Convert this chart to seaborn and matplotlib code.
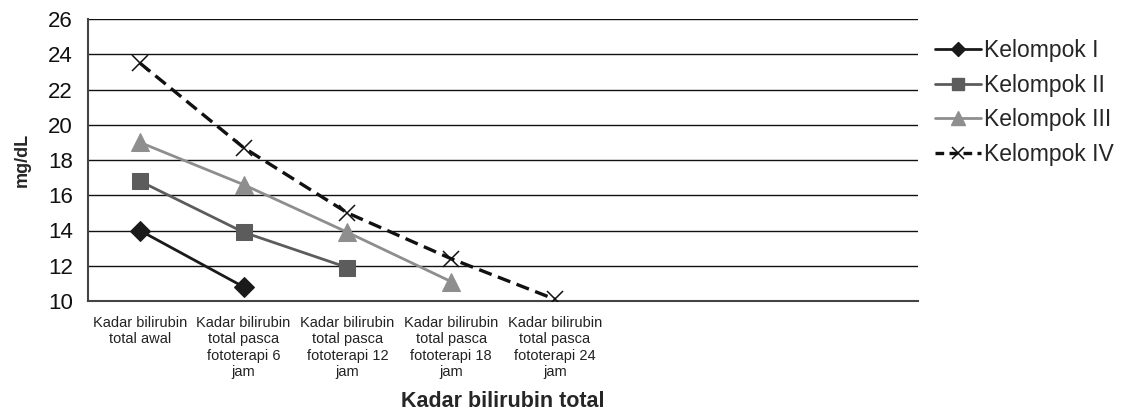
import matplotlib
matplotlib.use("Agg")
import matplotlib.pyplot as plt
import seaborn as sns
import pandas as pd
import numpy as np

# Measurement time points (bilirubin level after phototherapy)
categories = [
    "Kadar bilirubin\ntotal awal",
    "Kadar bilirubin\ntotal pasca\nfototerapi 6\njam",
    "Kadar bilirubin\ntotal pasca\nfototerapi 12\njam",
    "Kadar bilirubin\ntotal pasca\nfototerapi 18\njam",
    "Kadar bilirubin\ntotal pasca\nfototerapi 24\njam",
]
n_slots = 8  # category slots shown on the axis (last three empty)

groups = ["Kelompok I", "Kelompok II", "Kelompok III", "Kelompok IV"]
kelompok_1 = [14.0, 10.8]
kelompok_2 = [16.8, 13.9, 11.9]
kelompok_3 = [19.0, 16.6, 13.9, 11.1]
kelompok_4 = [23.5, 18.7, 15.0, 12.4, 10.1]

y_ticks = [10, 12, 14, 16, 18, 20, 22, 24, 26]

rows = []
for g, vals in zip(groups, [kelompok_1, kelompok_2, kelompok_3, kelompok_4]):
    for i, v in enumerate(vals):
        rows.append({"pos": i, "value": v, "group": g})
df = pd.DataFrame(rows)

sns.set_style("white")
plt.rcParams["font.family"] = ["Liberation Sans", "DejaVu Sans"]

fig = plt.figure(figsize=(11.21, 4.16), dpi=100)
ax = fig.add_axes([88 / 1121, 1 - 301 / 416, 830 / 1121, 282 / 416])

styles = {
    "Kelompok I": dict(color="#1a1a1a", marker="D", markersize=10, linewidth=2.0,
                       markeredgecolor="#1a1a1a"),
    "Kelompok II": dict(color="#5c5c5c", marker="s", markersize=11.5, linewidth=2.0,
                        markeredgecolor="#5c5c5c"),
    "Kelompok III": dict(color="#8e8e8e", marker="^", markersize=13, linewidth=2.0,
                         markeredgecolor="#8e8e8e"),
    "Kelompok IV": dict(color="#111111", marker="x", markersize=11, linewidth=2.4,
                        markeredgewidth=1.1, markeredgecolor="#111111",
                        dashes=(4.0, 2.0)),
}

for g in groups:
    sub = df[df["group"] == g]
    st = dict(styles[g])
    dash = st.pop("dashes", None)
    sns.lineplot(data=sub, x="pos", y="value", ax=ax, legend=False, zorder=3, **st)
    if dash is not None:
        ax.lines[-1].set_dashes(dash)

ax.set_xlim(-0.5, n_slots - 0.5)
ax.set_ylim(10, 26)
ax.set_yticks(y_ticks)
ax.yaxis.grid(True, color="#111111", linewidth=1.0)
ax.xaxis.grid(False)
ax.set_axisbelow(True)

ax.set_xticks(range(len(categories)))
ax.set_xticklabels(categories, fontsize=10.5, color="#222222", va="top")
ax.set_xticks(np.arange(-0.5, n_slots, 1.0), minor=True)
ax.tick_params(axis="x", which="major", length=0, pad=11)
ax.tick_params(axis="x", which="minor", length=4, width=1.0, color="#444444", direction="out")
ax.tick_params(axis="y", which="major", length=7, width=1.0, color="#444444",
               direction="out", labelsize=16, pad=4, labelcolor="#111111")

for side in ["top", "right"]:
    ax.spines[side].set_visible(False)
for side in ["left", "bottom"]:
    ax.spines[side].set_color("#444444")
    ax.spines[side].set_linewidth(1.5)

ax.set_xlabel("Kadar bilirubin total", fontsize=15.5, fontweight="bold", labelpad=9)
ax.set_ylabel("mg/dL", fontsize=13, fontweight="bold", labelpad=12)

handles = [
    plt.Line2D([], [], color="#1a1a1a", marker="D", markersize=7, linewidth=2.0),
    plt.Line2D([], [], color="#5c5c5c", marker="s", markersize=8, linewidth=2.0),
    plt.Line2D([], [], color="#8e8e8e", marker="^", markersize=10, linewidth=2.0),
    plt.Line2D([], [], color="#111111", marker="x", markersize=9,
               markeredgewidth=1.1, linewidth=2.4, dashes=(2.6, 1.6)),
]
fig.legend(handles, groups, loc="upper left", bbox_to_anchor=(926 / 1121, 1 - 30 / 416),
           frameon=False, fontsize=16.5, handlelength=2.0, handletextpad=0.15,
           labelspacing=0.5, borderaxespad=0)

fig.savefig("out.png", dpi=100)
